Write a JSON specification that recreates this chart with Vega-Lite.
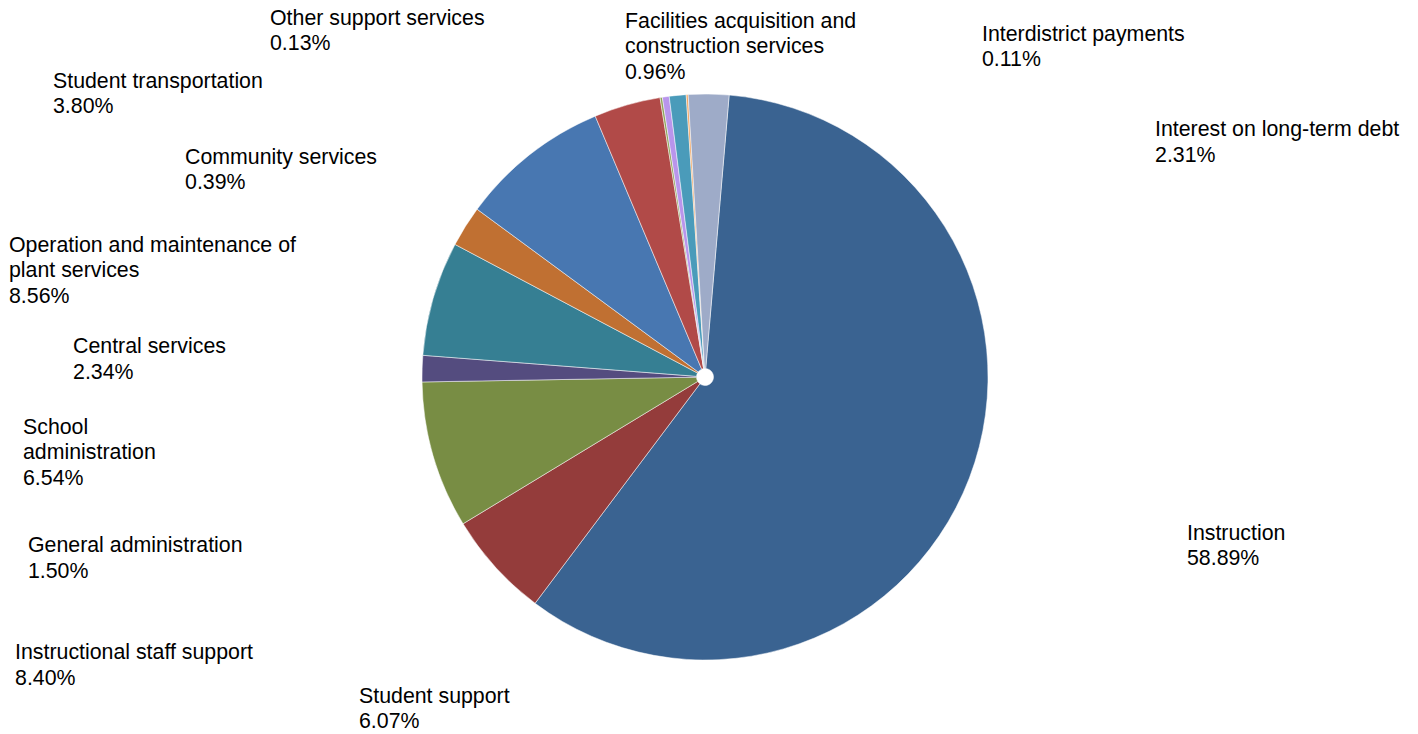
{
  "$schema": "https://vega.github.io/schema/vega-lite/v6.json",
  "width": 1410,
  "height": 714,
  "autosize": {"type": "none"},
  "padding": {"left": 0, "top": 20, "right": 8, "bottom": 0},
  "background": "white",
  "config": {"view": {"stroke": null}, "font": "Liberation Sans"},
  "data": {
    "values": [
      {"category": "Instruction", "value": 0.5889, "order": 1},
      {"category": "Student support", "value": 0.0607, "order": 2},
      {"category": "Instructional staff support", "value": 0.0840, "order": 3},
      {"category": "General administration", "value": 0.0150, "order": 4},
      {"category": "School\nadministration", "value": 0.0654, "order": 5},
      {"category": "Central services", "value": 0.0234, "order": 6},
      {"category": "Operation and maintenance of\nplant services", "value": 0.0856, "order": 7},
      {"category": "Student transportation", "value": 0.0380, "order": 8},
      {"category": "Other support services", "value": 0.0013, "order": 9},
      {"category": "Community services", "value": 0.0039, "order": 10},
      {"category": "Facilities acquisition and\nconstruction services", "value": 0.0096, "order": 11},
      {"category": "Interdistrict payments", "value": 0.0011, "order": 12},
      {"category": "Interest on long-term debt", "value": 0.0231, "order": 13}
    ]
  },
  "layer": [
    {
      "mark": {"type": "arc", "outerRadius": 283, "innerRadius": 8.5, "stroke": "#ffffff", "strokeWidth": 0.5},
      "encoding": {
        "theta": {"field": "value", "type": "quantitative", "stack": true, "scale": {"domain": [0, 1], "range": [0.0855, 6.3687]}},
        "order": {"field": "order", "type": "quantitative"},
        "color": {
          "field": "category", "type": "nominal", "legend": null,
          "scale": {
            "domain": ["Instruction", "Student support", "Instructional staff support", "General administration", "School\nadministration", "Central services", "Operation and maintenance of\nplant services", "Student transportation", "Other support services", "Community services", "Facilities acquisition and\nconstruction services", "Interdistrict payments", "Interest on long-term debt"],
            "range": ["#3a6391", "#943c3b", "#788d44", "#544c7f", "#367f93", "#c07032", "#4877b1", "#b14a48", "#8ea55a", "#b995ec", "#4a9bba", "#f2a35c", "#9eabc8"]
          }
        }
      }
    },
    {
      "transform": [
        {"stack": "value", "groupby": [], "sort": [{"field": "order", "order": "ascending"}], "as": ["v0", "v1"]},
        {"fold": ["v0", "v1"], "as": ["edge_key", "edge"]},
        {"aggregate": [{"op": "mean", "field": "edge", "as": "mid"}], "groupby": ["category", "value", "order"]}
      ],
      "encoding": {
        "theta": {"field": "mid", "type": "quantitative", "stack": null, "scale": {"type": "linear", "zero": false, "domain": [0.29445, 0.61925, 0.6916, 0.7411, 0.7813, 0.8257, 0.8802, 0.942, 0.96165, 0.96425, 0.971, 0.97635, 0.98845], "range": [1.9043, 3.9507, 4.3194, 4.4539, 4.5869, 4.744, 4.8494, 5.1245, 5.3872, 5.0946, 6.0382, 6.9785, 7.3693]}},
        "radius": {"field": "order", "type": "quantitative", "scale": {"type": "linear", "zero": false, "domain": [1, 2, 3, 4, 5, 6, 7, 8, 9, 10, 11, 12, 13], "range": [510.1, 478.1, 746.9, 700.3, 687.4, 632.3, 702.6, 711.6, 557.1, 560.4, 329.8, 432.4, 508.6]}}
      },
      "layer": [
        {
          "transform": [{"filter": "indexof(datum.category, '\\n') < 0"}],
          "mark": {"type": "text", "align": "left", "baseline": "bottom", "lineBreak": "\n", "lineHeight": 25.5, "fontSize": 21.33, "fill": "#000000"},
          "encoding": {
            "text": {"field": "category", "type": "nominal"}
          }
        },
        {
          "transform": [{"filter": "indexof(datum.category, '\\n') >= 0"}],
          "mark": {"type": "text", "align": "left", "baseline": "bottom", "dy": -25.5, "lineBreak": "\n", "lineHeight": 25.5, "fontSize": 21.33, "fill": "#000000"},
          "encoding": {
            "text": {"field": "category", "type": "nominal"}
          }
        },
        {
          "mark": {"type": "text", "align": "left", "baseline": "top", "dy": 4.5, "fontSize": 21.33, "fill": "#000000"},
          "encoding": {
            "text": {"field": "value", "type": "quantitative", "format": ".2%"}
          }
        }
      ]
    }
  ],
  "resolve": {"scale": {"theta": "independent", "radius": "independent"}}
}
